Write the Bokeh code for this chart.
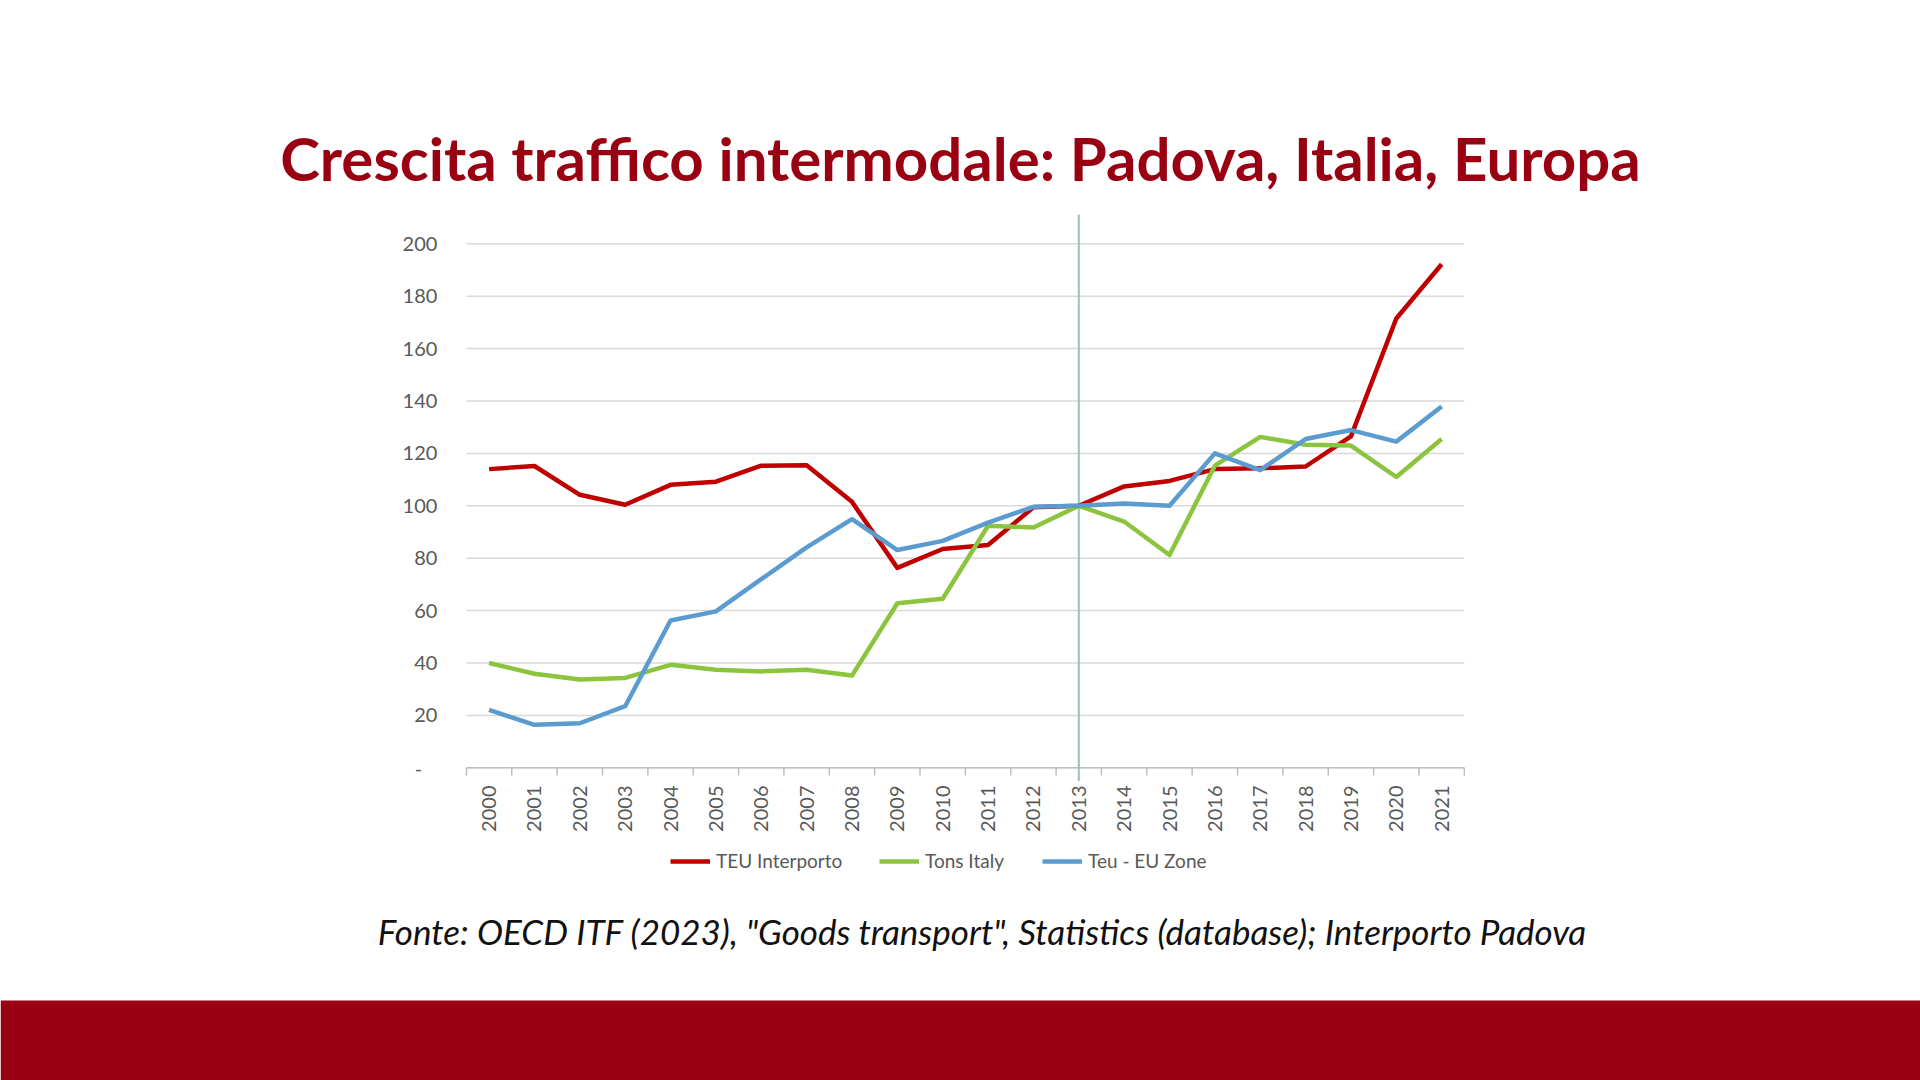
import math
from bokeh.plotting import figure
from bokeh.models import Legend, LegendItem, Label, Range1d, BoxAnnotation
from bokeh.core.properties import value
from bokeh.embed import file_html
from bokeh.resources import INLINE

years = ["2000", "2001", "2002", "2003", "2004", "2005", "2006", "2007", "2008", "2009", "2010",
         "2011", "2012", "2013", "2014", "2015", "2016", "2017", "2018", "2019", "2020", "2021"]
teu_interporto = [114, 115.2, 104.2, 100.4, 108, 109.2, 115.3, 115.5, 101.5, 76.3, 83.5,
                  85, 99.4, 100, 107.4, 109.5, 114, 114.3, 115, 126.5, 171.5, 192.2]
tons_italy = [40, 35.9, 33.7, 34.3, 39.3, 37.4, 36.8, 37.4, 35.2, 62.8, 64.5,
              92.4, 91.7, 100, 94, 81.2, 115.3, 126.3, 123.3, 123, 111, 125.5]
teu_eu_zone = [22.1, 16.4, 17, 23.5, 56.2, 59.7, 72, 84.1, 94.9, 83.1, 86.6,
               93.6, 99.6, 100, 100.9, 100, 120, 113.6, 125.5, 128.9, 124.5, 137.9]
series_names = ["TEU Interporto", "Tons Italy", "Teu - EU Zone"]
y_ticks = [0, 20, 40, 60, 80, 100, 120, 140, 160, 180, 200]
y_tick_labels = ["-\u00a0\u00a0\u00a0", "20", "40", "60", "80", "100", "120", "140", "160", "180", "200"]
base_year = "2013"
title_text = "Crescita traffico intermodale: Padova, Italia, Europa"
source_text = 'Fonte: OECD ITF (2023), "Goods transport", Statistics (database); Interporto Padova'

colors = ["#C00000", "#8CC43F", "#5B9BD0"]
FONT = "Lato"
GREY = "#595959"
RED = "#990012"

W, H = 1920, 1080
n = len(years)
xs = list(range(n))

# layout geometry (pixels): category spacing and positions of the chart area
cat_px = 45.36
x_first_px = 488.6          # centre of first category from left
unit_px = 2.62              # pixels per y unit
y_zero_px = H - 767.3       # y=0 from bottom
x_start = -x_first_px / cat_px
x_end = (W - x_first_px) / cat_px
y_start = -y_zero_px / unit_px
y_end = (H - y_zero_px) / unit_px
y_top = 211.2               # top of plotting area in y units

p = figure(width=W, height=H, output_backend="svg", toolbar_location=None,
           x_range=Range1d(x_start, x_end), y_range=Range1d(y_start, y_end),
           min_border=0, title=None)
p.axis.visible = False
p.grid.visible = False
p.outline_line_color = None
p.background_fill_color = "white"
p.border_fill_color = "white"

# horizontal grid lines
p.segment(x0=[-0.5] * len(y_ticks), x1=[n - 0.5] * len(y_ticks), y0=y_ticks, y1=y_ticks,
          line_color="#D9D9D9", line_width=1.5)
# x axis line and boundary tick marks
bounds = [i - 0.5 for i in range(n + 1)]
p.segment(x0=bounds, x1=bounds, y0=[0] * len(bounds), y1=[-3] * len(bounds),
          line_color="#BFBFBF", line_width=1.5)
p.segment(x0=[-0.5], x1=[n - 0.5], y0=[0], y1=[0], line_color="#BFBFBF", line_width=1.5)

# tick labels
p.text(x=[-0.5] * len(y_ticks), y=y_ticks, text=y_tick_labels, x_offset=-29,
       text_align="right", text_baseline="middle", text_font=value(FONT),
       text_font_size="20px", text_color=GREY)
p.text(x=xs, y=[-6] * n, text=years, angle=math.pi / 2, y_offset=2,
       text_align="right", text_baseline="middle", text_font=value(FONT),
       text_font_size="20px", text_color=GREY)

# base-year marker
bx = years.index(base_year)
p.segment(x0=[bx], x1=[bx], y0=[-5], y1=[y_top], line_color="#8FC3BB", line_width=2)

renderers = []
for vals, c in zip([teu_interporto, tons_italy, teu_eu_zone], colors):
    r = p.line(xs, vals, line_color=c, line_width=4.5, line_join="round")
    renderers.append(r)

# three legends positioned individually
legend_x = [670, 879, 1042]
for name, r, lx in zip(series_names, renderers, legend_x):
    lg = Legend(items=[LegendItem(label=name, renderers=[r])], location=(lx, 208),
                orientation="horizontal", padding=0, margin=0, spacing=0,
                glyph_width=40, glyph_height=20, label_standoff=6,
                border_line_color=None, background_fill_alpha=0,
                label_text_font=FONT, label_text_font_size="19px",
                label_text_color=GREY, label_height=20)
    p.add_layout(lg, "center")

p.add_layout(Label(x=960, y=H - 157, x_units="screen", y_units="screen", text=title_text,
                   text_align="center", text_baseline="alphabetic",
                   text_font=FONT, text_font_style="bold", text_font_size="60px",
                   text_color=RED))
p.add_layout(Label(x=982, y=H - 930, x_units="screen", y_units="screen", text=source_text,
                   text_align="center", text_baseline="alphabetic",
                   text_font=FONT, text_font_style="italic", text_font_size="35px",
                   text_color="#111111"))

# footer band
p.add_layout(BoxAnnotation(top=(H - 1000 - y_zero_px) / unit_px, fill_color="#9A0013",
                           fill_alpha=1, line_color=None, level="underlay"))

open("out.html", "w").write(file_html(p, INLINE))
